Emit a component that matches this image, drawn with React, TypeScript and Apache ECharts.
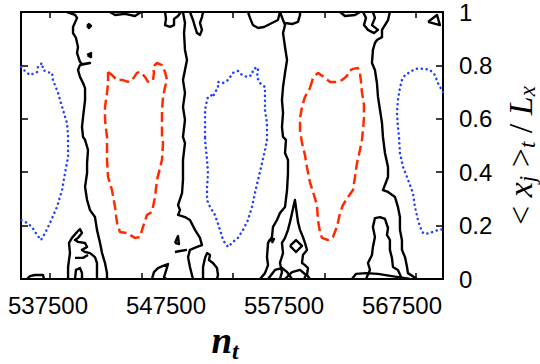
import React, { useEffect, useRef } from "react";
import * as echarts from "echarts";

// axis ranges and ticks
const xMin = 535210;
const xMax = 570980;
const xLabelValues = [537500, 547500, 557500, 567500];
const xTickValues = [537670, 545430, 553180, 560940, 568700];
const yMin = 0;
const yMax = 1;
const yStep = 0.2;

// dotted (blue) contours
const blueLeft = [[535210,0.794],[535550,0.779],[535970,0.764],[536570,0.775],[536650,0.794],[536990,0.809],[537080,0.783],[537420,0.775],[537840,0.772],[537920,0.745],[538350,0.697],[538770,0.633],[539110,0.584],[539200,0.532],[539200,0.457],[538940,0.397],[538690,0.333],[538260,0.270],[537670,0.210],[537250,0.172],[536910,0.146],[536570,0.165],[536140,0.195],[535720,0.210],[535210,0.221]];
const blueMid = [[550810,0.532],[550810,0.584],[550810,0.633],[550980,0.670],[551060,0.682],[551400,0.689],[551480,0.682],[551650,0.700],[551910,0.715],[551910,0.738],[552330,0.734],[552760,0.745],[553180,0.772],[553600,0.779],[553940,0.764],[554370,0.757],[554790,0.764],[554870,0.783],[555210,0.794],[555300,0.783],[555210,0.757],[555470,0.734],[555890,0.719],[555890,0.682],[555890,0.633],[556060,0.584],[556060,0.521],[555890,0.483],[555640,0.434],[555300,0.371],[555040,0.322],[554790,0.270],[554450,0.221],[554030,0.184],[553600,0.154],[553180,0.139],[552760,0.120],[552330,0.146],[552080,0.184],[551650,0.240],[551230,0.270],[550980,0.296],[550980,0.345],[551060,0.397],[550980,0.446],[550810,0.521],[550810,0.532]];
const blueRight = [[570980,0.700],[570550,0.734],[570300,0.764],[569870,0.783],[569450,0.787],[569030,0.787],[568600,0.787],[568180,0.775],[567760,0.764],[567500,0.745],[567330,0.715],[567160,0.670],[567080,0.622],[567160,0.569],[567250,0.532],[567330,0.472],[567590,0.419],[567930,0.382],[568180,0.352],[568430,0.322],[568600,0.270],[568860,0.221],[569200,0.176],[569450,0.169],[569870,0.172],[570300,0.180],[570980,0.187]];

// dashed (red) contours
const redLeft = [[542590,0.775],[542920,0.764],[543350,0.745],[543860,0.745],[544280,0.738],[544620,0.745],[545040,0.772],[545300,0.775],[545720,0.757],[545980,0.738],[546400,0.745],[546480,0.772],[546400,0.794],[546740,0.809],[547160,0.801],[547420,0.775],[547590,0.745],[547420,0.719],[547250,0.682],[547160,0.633],[547160,0.584],[547160,0.532],[547250,0.509],[547160,0.446],[546740,0.371],[546570,0.307],[546310,0.251],[545890,0.240],[545550,0.195],[545300,0.157],[544870,0.154],[544200,0.172],[543600,0.176],[543350,0.210],[543180,0.270],[542920,0.333],[542590,0.382],[542500,0.446],[542500,0.509],[542500,0.532],[542330,0.596],[542330,0.644],[542500,0.697],[542590,0.734],[542590,0.775]];
const redRight = [[559700,0.715],[559960,0.753],[560380,0.772],[560980,0.753],[561400,0.738],[561910,0.738],[562420,0.745],[562840,0.760],[563010,0.779],[563350,0.787],[563770,0.790],[563940,0.772],[564030,0.738],[564110,0.700],[564280,0.652],[564280,0.603],[564200,0.558],[564110,0.521],[563940,0.483],[563690,0.434],[563520,0.382],[563350,0.333],[562930,0.307],[562500,0.277],[562250,0.247],[561990,0.195],[561650,0.157],[561230,0.146],[560720,0.154],[560550,0.176],[560380,0.221],[560300,0.277],[560040,0.315],[559700,0.363],[559450,0.419],[559280,0.464],[559030,0.509],[558860,0.558],[558860,0.603],[559030,0.644],[559280,0.682],[559700,0.715]];

// solid (black) contours
const black1 = [[539110,1.0],[539790,0.989],[539960,0.978],[539620,0.944],[539620,0.921],[539870,0.903],[540040,0.869],[539960,0.846],[540210,0.813],[540380,0.805],[541060,0.809],[540210,0.801],[540040,0.783],[540210,0.757],[540470,0.734],[540640,0.715],[540640,0.670],[540470,0.607],[540380,0.569],[540470,0.532],[540640,0.521],[540890,0.483],[540810,0.434],[540810,0.397],[540640,0.345],[540810,0.296],[541060,0.258],[541480,0.232],[541650,0.184],[541910,0.135],[542080,0.097],[542330,0.060],[542500,0.022],[542500,0.0]];
const black2 = [[548940,1.0],[549110,0.959],[549030,0.921],[549110,0.858],[549280,0.820],[549110,0.783],[548940,0.745],[549110,0.697],[548940,0.644],[549110,0.596],[548940,0.532],[549110,0.509],[548940,0.446],[548940,0.371],[548860,0.322],[548520,0.277],[548690,0.258],[548520,0.240],[549110,0.232],[549530,0.221],[549960,0.184],[550380,0.154],[550550,0.127],[550130,0.120],[549530,0.109],[549370,0.082],[549530,0.045],[549700,0.015],[549790,0.0]];
const black3 = [[557160,1.0],[557590,0.951],[557420,0.921],[557590,0.869],[557760,0.820],[557590,0.772],[557420,0.719],[557330,0.670],[557420,0.622],[557330,0.569],[557420,0.532],[557670,0.521],[557590,0.472],[557840,0.446],[557840,0.397],[557760,0.333],[557590,0.270],[557160,0.247],[556910,0.221],[556570,0.195],[556480,0.157],[556150,0.135],[556060,0.082],[556150,0.052],[555890,0.022],[555470,0.0]];
const black4 = [[566480,1.0],[566320,0.970],[566060,0.951],[565810,0.933],[565810,0.906],[565380,0.895],[565210,0.884],[565040,0.858],[564960,0.809],[565210,0.783],[565380,0.734],[565470,0.682],[565640,0.633],[565810,0.584],[565890,0.532],[566060,0.472],[566320,0.419],[566320,0.382],[565890,0.333],[566320,0.326],[566910,0.307],[567160,0.270],[567330,0.232],[567330,0.184],[567500,0.146],[567500,0.109],[567760,0.082],[567930,0.045],[568010,0.022],[568770,0.0]];
const bits1 = [[547420,1.0],[547500,0.974],[547420,0.951],[547840,0.944],[548180,0.951],[548180,0.974],[548520,0.985],[548770,1.0]];
const bits2 = [[542750,1.0],[543180,0.989],[544030,0.993],[544870,0.985],[545400,1.0]];
const bits3 = [[540810,0.948],[540970,0.955],[541140,0.948],[540970,0.940],[540810,0.948]];
const bits4 = [[540810,0.839],[541140,0.846],[541140,0.831],[540810,0.839]];
const bits5 = [[549530,1.0],[549790,0.970],[549960,0.944],[550130,0.921],[550380,0.914],[550550,0.933],[550380,0.959],[550550,0.981],[550640,1.0]];
const bits6 = [[554450,1.0],[554620,0.978],[554870,0.951],[555300,0.940],[555810,0.944],[556480,0.959],[556990,0.970],[557160,1.0]];
const bits7 = [[557590,0.959],[558180,0.955],[558690,0.963],[558860,0.989],[558860,1.0]];
const bits8 = [[564200,1.0],[564450,0.978],[564280,0.951],[564620,0.933],[565130,0.921],[565470,0.933],[564960,0.951],[565210,0.978],[565040,1.0]];
const bits9 = [[562250,1.0],[562670,0.985],[563520,0.989],[563940,1.0]];
const bits10 = [[569710,0.963],[570470,0.989],[570720,0.951],[569710,0.963]];
const bits11 = [[539200,0],[539200,0.045],[539360,0.097],[539280,0.135],[539530,0.154],[539960,0.176],[540210,0.187],[540380,0.172],[540040,0.154],[539790,0.146],[540040,0.139],[540640,0.135],[540810,0.120],[540380,0.109],[540640,0.101],[541060,0.097],[541480,0.082],[541650,0.060],[541650,0.022],[541650,0]];
const bits12 = [[539790,0.079],[540470,0.079],[540890,0.090]];
const bits13 = [[539790,0],[539870,0.034],[540210,0.041],[540380,0.022],[540380,0]];
const bits14 = [[535720,0],[535970,0.011],[536400,0.015],[537080,0.015],[537160,0]];
const bits15 = [[546310,0],[546480,0.026],[546820,0.041],[547250,0.049],[547670,0.056],[547500,0.030],[547330,0.007],[547500,0]];
const bits16 = [[548260,0.135],[548520,0.161],[548600,0.131],[548260,0.135]];
const bits17 = [[548260,0.101],[548690,0.105],[549280,0.109]];
const bits18 = [[550640,0],[550640,0.045],[550810,0.079],[550980,0.097],[551230,0.090],[551140,0.071],[551480,0.060],[551820,0.041],[551910,0.015],[551820,0]];
const bits19 = [[557160,0],[557330,0.026],[557160,0.060],[557420,0.097],[557330,0.135],[557590,0.154],[557840,0.184],[558010,0.213],[558430,0.296],[558690,0.213],[558860,0.184],[559110,0.157],[559280,0.135],[559450,0.109],[559110,0.090],[559030,0.060],[559280,0.052],[559540,0.041],[559450,0.015],[559700,0]];
const bits20 = [[558010,0.124],[558520,0.146],[559030,0.124],[558520,0.101],[558010,0.124]];
const bits21 = [[556150,0.142],[556650,0.150],[556480,0.135]];
const bits22 = [[556150,0],[556740,0.034],[557330,0.041],[557760,0.026],[558180,0]];
const bits23 = [[557590,0],[558180,0.026],[558860,0.034],[559370,0.015],[559200,0]];
const bits24 = [[564450,0],[564790,0.034],[564620,0.060],[564960,0.090],[565040,0.120],[565210,0.157],[565040,0.195],[565210,0.228],[565640,0.232],[566060,0.225],[566320,0.191],[566230,0.165],[566480,0.146],[566480,0.109],[566650,0.079],[566740,0.045],[567160,0.034],[567500,0]];
const bits25 = [[563260,0],[563600,0.019],[564450,0.022],[565470,0.019],[566650,0.011],[568180,0]];

const solidContours = [black1, black2, black3, black4, bits1, bits2, bits3, bits4, bits5, bits6, bits7, bits8, bits9, bits10, bits11, bits12, bits13, bits14, bits15, bits16, bits17, bits18, bits19, bits20, bits21, bits22, bits23, bits24, bits25];
const dashedContours = [redLeft, redRight];
const dottedContours = [blueLeft, blueMid, blueRight];

export default function App() {
  const ref = useRef<HTMLDivElement>(null);
  useEffect(() => {
    if (!ref.current) return;
    const chart = echarts.init(ref.current, null, { renderer: "svg" });
    const line = (data: number[][], lineStyle: any) => ({
      type: "line",
      data,
      symbol: "none",
      showSymbol: false,
      silent: true,
      clip: true,
      lineStyle,
    });
    const series: any[] = [];
    solidContours.forEach((d) => series.push(line(d, { color: "#000", width: 2.4, type: "solid", join: "round" })));
    dashedContours.forEach((d) => series.push(line(d, { color: "#ff2a00", width: 2.5, type: [10, 4.5] })));
    dottedContours.forEach((d) => series.push(line(d, { color: "#1f3fff", width: 2.5, type: [0.1, 4.8], cap: "round" })));

    const axisLine = { show: true, onZero: false, lineStyle: { color: "#000", width: 2 } };
    const tickStyle = { color: "#000", width: 1.5 };
    const serif = "'Liberation Serif', 'DejaVu Serif', serif";
    const sans = "'Liberation Sans', Arial, sans-serif";

    chart.setOption({
      animation: false,
      backgroundColor: "#fff",
      grid: { left: 21, right: 97, top: 12, bottom: 85, containLabel: false, outerBoundsMode: "none" },
      xAxis: [
        {
          type: "value",
          position: "bottom",
          min: xMin,
          max: xMax,
          axisLine,
          axisTick: { show: true, inside: true, length: 6, customValues: xTickValues, lineStyle: tickStyle },
          axisLabel: {
            customValues: xLabelValues,
            formatter: (v: number) => String(v),
            color: "#000",
            fontSize: 24,
            fontFamily: sans,
            margin: 14,
          },
          splitLine: { show: false },
          name: "{n|n}{t|t}",
          nameLocation: "middle",
          nameGap: 40,
          nameTextStyle: {
            padding: [0, 14, 0, 0],
            rich: {
              n: { fontFamily: serif, fontStyle: "italic", fontWeight: "bold", fontSize: 37, verticalAlign: "top", padding: [0, 0, 4, 0], color: "#000" },
              t: { fontFamily: serif, fontStyle: "italic", fontWeight: "bold", fontSize: 24, verticalAlign: "bottom", color: "#000" },
            },
          },
        },
        {
          type: "value",
          position: "top",
          min: xMin,
          max: xMax,
          axisLine,
          axisTick: { show: true, inside: true, length: 6, customValues: xTickValues, lineStyle: tickStyle },
          axisLabel: { show: false },
          splitLine: { show: false },
        },
      ],
      yAxis: [
        {
          type: "value",
          position: "right",
          min: yMin,
          max: yMax,
          interval: yStep,
          axisLine,
          axisTick: { show: true, inside: true, length: 7, lineStyle: tickStyle },
          axisLabel: { color: "#000", fontSize: 24, fontFamily: sans, margin: 16 },
          splitLine: { show: false },
          name: "{o|< }{i|x}{s|j}{o| >}{s|t}{o| / }{i|L}{s|x}",
          nameLocation: "middle",
          nameRotate: 90,
          nameGap: 49,
          nameTextStyle: {
            padding: [0, 20, 0, 0],
            rich: {
              o: { fontFamily: serif, fontSize: 34, verticalAlign: "top", color: "#000" },
              i: { fontFamily: serif, fontStyle: "italic", fontSize: 34, verticalAlign: "top", color: "#000" },
              s: { fontFamily: serif, fontStyle: "italic", fontSize: 23, verticalAlign: "top", padding: [13, 0, 0, 0], color: "#000" },
            },
          },
        },
        {
          type: "value",
          position: "left",
          min: yMin,
          max: yMax,
          interval: yStep,
          axisLine,
          axisTick: { show: true, inside: true, length: 7, lineStyle: tickStyle },
          axisLabel: { show: false },
          splitLine: { show: false },
        },
      ],
      series,
    });
    return () => chart.dispose();
  }, []);
  return (
    <div
      ref={ref}
      style={{ position: "fixed", left: 0, top: 0, width: 540, height: 364, background: "#fff" }}
    />
  );
}
